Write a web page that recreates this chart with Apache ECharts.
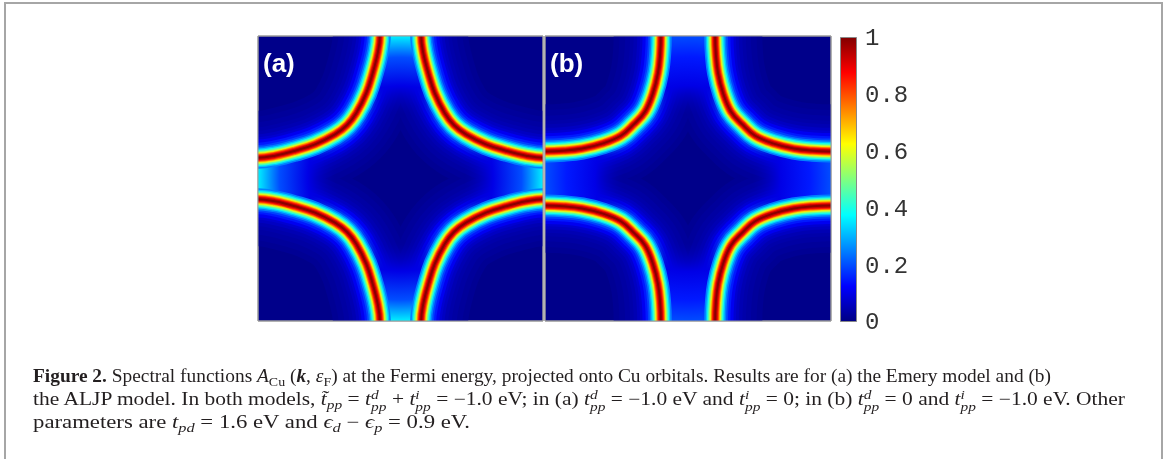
<!DOCTYPE html>
<html>
<head>
<meta charset="utf-8">
<script src="https://cdn.jsdelivr.net/npm/echarts/dist/echarts.min.js"></script>
<style>
  html, body { margin: 0; padding: 0; background: #fff; }
  #wrap { position: relative; width: 1168px; height: 459px; overflow: hidden; }
  #main { position: absolute; left: 0; top: 0; width: 1168px; height: 459px; }
  .cap { position: absolute; left: 33px; white-space: nowrap; font-family: 'Liberation Serif', 'DejaVu Serif', serif;
         font-size: 18px; line-height: 20px; color: #231f20; transform-origin: 0 0; }
  .sb { font-size: 0.72em; vertical-align: -0.32em; }
  .ss { display: inline-block; vertical-align: -0.42em; font-size: 0.72em; line-height: 0.9em; font-style: italic; }
  .ss span { display: block; }
</style>
</head>
<body>
<div id="wrap">
  <div id="main"></div>
  <div class="cap" id="l1" style="top:366px"><b>Figure 2.</b> Spectral functions <i>A</i><span class="sb">Cu</span> (<b><i>k</i></b>, <i>ε</i><span class="sb">F</span>) at the Fermi energy, projected onto Cu orbitals. Results are for (a) the Emery model and (b)</div>
  <div class="cap" id="l2" style="top:389px">the ALJP model. In both models, <i>t̃</i><span class="sb"><i>pp</i></span> = <i>t</i><span class="ss"><span>d</span><span>pp</span></span> + <i>t</i><span class="ss"><span>i</span><span>pp</span></span> = −1.0 eV; in (a) <i>t</i><span class="ss"><span>d</span><span>pp</span></span> = −1.0 eV and <i>t</i><span class="ss"><span>i</span><span>pp</span></span> = 0; in (b) <i>t</i><span class="ss"><span>d</span><span>pp</span></span> = 0 and <i>t</i><span class="ss"><span>i</span><span>pp</span></span> = −1.0 eV. Other</div>
  <div class="cap" id="l3" style="top:412px">parameters are <i>t</i><span class="sb"><i>pd</i></span> = 1.6 eV and <i>ϵ</i><span class="sb"><i>d</i></span> − <i>ϵ</i><span class="sb"><i>p</i></span> = 0.9 eV.</div>
</div>
<script>
// Fermi surface, top-left quarter of each panel, k in units of pi
var arcA = [[-0.16, 1.12], [-0.145, 1.0], [-0.16, 0.88], [-0.195, 0.74], [-0.24, 0.6], [-0.31, 0.46], [-0.375, 0.375],
            [-0.46, 0.31], [-0.6, 0.24], [-0.74, 0.195], [-0.88, 0.16], [-1.0, 0.145], [-1.12, 0.16]];
var arcB = [[-0.195, 1.12], [-0.19, 1.0], [-0.195, 0.87], [-0.21, 0.74], [-0.245, 0.6], [-0.30, 0.47], [-0.38, 0.38],
            [-0.47, 0.30], [-0.6, 0.245], [-0.74, 0.21], [-0.87, 0.195], [-1.0, 0.19], [-1.12, 0.195]];

// cross section of a ridge: distance from the Fermi surface (k/pi) and A value
var ridgeDk  = [0.33, 0.29, 0.25, 0.215, 0.19, 0.165, 0.145, 0.128, 0.106, 0.09, 0.077, 0.066, 0.057, 0.049,
                0.041, 0.035, 0.029, 0.022, 0.015, 0.007];
var ridgeVal = [0.02, 0.027, 0.035, 0.042, 0.05, 0.065, 0.08, 0.11, 0.15, 0.19, 0.25, 0.32, 0.40, 0.48,
                0.57, 0.66, 0.76, 0.85, 0.93, 0.99];

// background inside the Fermi surface, from Gamma (0) out to X (1)
var glowR = [0, 0.45, 0.65, 0.85, 1.0];
var glowA = [0.02, 0.05, 0.10, 0.20, 0.36];
var glowB = [0.03, 0.05, 0.10, 0.15, 0.20];
var glowAlpha = [0, 0, 1, 1, 1];

var cbarTop = [1];

function jetRGB(v) {
  v = Math.max(0, Math.min(1, v));
  var c = [Math.min(4 * v - 1.5, -4 * v + 4.5), Math.min(4 * v - 0.5, -4 * v + 3.5), Math.min(4 * v + 0.5, -4 * v + 2.5)];
  return c.map(function (x) { return Math.round(255 * Math.max(0, Math.min(1, x))); });
}
function jet(v, a) {
  var c = jetRGB(v);
  return 'rgba(' + c.join(',') + ',' + (a == null ? 1 : a) + ')';
}

function mirror(arc, sx, sy) {
  return arc.map(function (p) { return [p[0] * sx, p[1] * sy]; });
}

function panelSeries(i, arc, glow) {
  var quads = [arc, mirror(arc, -1, 1), mirror(arc, -1, -1), mirror(arc, 1, -1)];
  var rows = [];
  quads.forEach(function (q, n) { q.forEach(function (p) { rows.push([p[0], p[1], n]); }); });
  return {
    type: 'custom', xAxisIndex: i, yAxisIndex: i, clip: true, silent: true,
    data: rows,
    renderItem: function (params, api) {
      if (params.dataIndex > 0) return;
      var px = function (q) { return q.map(function (p) { return api.coord(p); }); };
      var ctr = api.coord([0, 0]);
      var rad = api.size([1, 0])[0];
      var region = px(quads[0].slice().reverse().concat(quads[1], quads[2].slice().reverse(), quads[3]));
      var lines = function (lo, hi) {
        var out = [];
        ridgeDk.forEach(function (dk, j) {
          var v = ridgeVal[j];
          if (v < lo || v >= hi) return;
          var w = 2 * api.size([dk, 0])[0];
          quads.forEach(function (q) {
            out.push({
              type: 'polyline', shape: { points: px(q), smooth: 0.4 },
              style: { fill: null, stroke: jet(v), lineWidth: w, lineJoin: 'round' }
            });
          });
        });
        return out;
      };
      var kids = lines(0, 0.22);
      kids.push({
        type: 'polygon', shape: { points: region },
        style: {
          fill: new echarts.graphic.RadialGradient(ctr[0], ctr[1], rad,
            glowR.map(function (r, j) { return { offset: r, color: jet(glow[j], glowAlpha[j]) }; }), true)
        }
      });
      kids = kids.concat(lines(0.22, 2));
      return { type: 'group', children: kids };
    }
  };
}

var gridA = { left: 258, top: 36, width: 285, height: 285 };
var gridB = { left: 545, top: 36, width: 286, height: 285 };
var gridC = { left: 840, top: 37, width: 17, height: 285 };
var gridL = { left: 840, top: 39, width: 17, height: 284 };

function panelGrid(g) {
  return { left: g.left, top: g.top, width: g.width, height: g.height, show: true,
           backgroundColor: jet(0.01), borderColor: '#9a9a9a', borderWidth: 1, containLabel: false, outerBoundsMode: 'none' };
}
function plainGrid(g) {
  return { left: g.left, top: g.top, width: g.width, height: g.height, containLabel: false, outerBoundsMode: 'none' };
}

function frame(g) {
  return { type: 'rect', z: 100, silent: true, shape: { x: g.left, y: g.top, width: g.width, height: g.height },
           style: { fill: null, stroke: '#9a9a9a', lineWidth: 1 } };
}

var chart = echarts.init(document.getElementById('main'), null, { renderer: 'canvas' });

var labelStyle = { color: '#fff', fontFamily: 'Liberation Sans', fontWeight: 'bold', fontSize: 26 };
var tickStyle = { inside: true, length: 5, lineStyle: { color: '#444' } };

chart.setOption({
  animation: false,
  title: [
    { text: '(a)', left: 263, top: 52, padding: 0, textStyle: labelStyle },
    { text: '(b)', left: 550, top: 52, padding: 0, textStyle: labelStyle }
  ],
  grid: [panelGrid(gridA), panelGrid(gridB), plainGrid(gridC), plainGrid(gridL)],
  xAxis: [
    { gridIndex: 0, type: 'value', min: -1, max: 1, show: false },
    { gridIndex: 1, type: 'value', min: -1, max: 1, show: false },
    { gridIndex: 2, type: 'category', data: [''], show: false },
    { gridIndex: 3, type: 'value', show: false }
  ],
  yAxis: [
    { gridIndex: 0, type: 'value', min: -1, max: 1, show: false },
    { gridIndex: 1, type: 'value', min: -1, max: 1, show: false },
    { gridIndex: 2, type: 'value', min: 0, max: 1, interval: 0.2, position: 'left', z: 10,
      axisLine: { show: false }, splitLine: { show: false }, axisLabel: { show: false }, axisTick: tickStyle },
    { gridIndex: 2, type: 'value', min: 0, max: 1, interval: 0.2, position: 'right', z: 10,
      axisLine: { show: false }, splitLine: { show: false }, axisLabel: { show: false }, axisTick: tickStyle },
    { gridIndex: 3, type: 'value', min: 0, max: 1, interval: 0.2, position: 'right',
      axisLine: { show: false }, splitLine: { show: false }, axisTick: { show: false },
      axisLabel: { fontFamily: 'Liberation Mono', fontSize: 24, color: '#333', margin: 8,
                   formatter: function (v) { return String(Math.round(v * 10) / 10); } } }
  ],
  series: [
    panelSeries(0, arcA, glowA),
    panelSeries(1, arcB, glowB),
    { type: 'bar', xAxisIndex: 2, yAxisIndex: 2, data: cbarTop, barWidth: '100%', silent: true,
      itemStyle: { borderColor: '#888', borderWidth: 1,
        color: new echarts.graphic.LinearGradient(0, 0, 0, 1, [
          { offset: 0, color: '#800000' }, { offset: 0.125, color: '#ff0000' }, { offset: 0.375, color: '#ffff00' },
          { offset: 0.625, color: '#00ffff' }, { offset: 0.875, color: '#0000ff' }, { offset: 1, color: '#000080' }]) } }
  ],
  graphic: [
    frame(gridA), frame(gridB),
    { type: 'rect', z: 100, silent: true, shape: { x: 5, y: 3, width: 1157, height: 500 },
      style: { fill: null, stroke: '#a6a6a6', lineWidth: 2 } }
  ]
});

// fit caption lines to the widths in the figure
var capEnds = { l1: 1051, l2: 1125, l3: 470 };
Object.keys(capEnds).forEach(function (id) {
  var el = document.getElementById(id);
  var w = el.getBoundingClientRect().width;
  el.style.transform = 'scaleX(' + ((capEnds[id] - 33) / w) + ')';
});
</script>
</body>
</html>
